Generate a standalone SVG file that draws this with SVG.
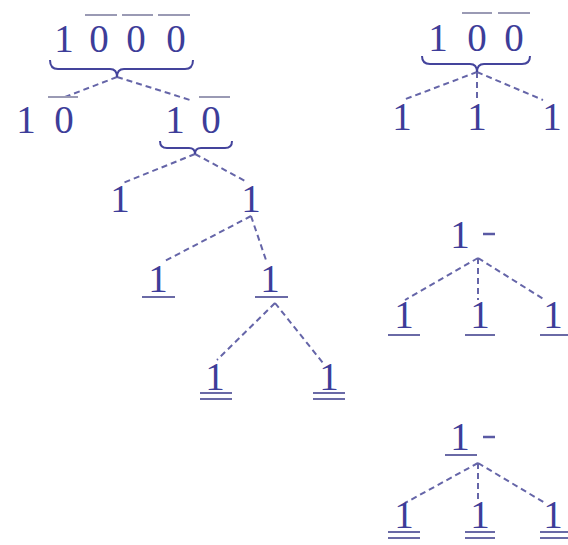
<svg xmlns="http://www.w3.org/2000/svg" width="568" height="545" viewBox="0 0 568 545">
<style>
text{font-family:"Liberation Serif","DejaVu Serif",serif;font-size:39px;fill:#3d3d99;text-anchor:middle}
.ob{stroke:#9a9ab4;stroke-width:2;fill:none}
.ul{stroke:#6a6aa6;stroke-width:2;fill:none}
.br{stroke:#44449c;stroke-width:2;fill:none}
.dl{stroke:#6565a8;stroke-width:2;stroke-dasharray:6 4;fill:none}
.mn{stroke:#5a5aa4;stroke-width:2.5;fill:none}
</style>
<rect width="568" height="545" fill="#ffffff"/>
<g id="connectors">
<path class="dl" d="M117,77 L65,97"/>
<path class="dl" d="M117,77 L190,100"/>
<path class="dl" d="M195,154 L123,183"/>
<path class="dl" d="M195,154 L247,182"/>
<path class="dl" d="M251,216 L163,262"/>
<path class="dl" d="M251,216 L267,263"/>
<path class="dl" d="M275,303 L217,360"/>
<path class="dl" d="M275,303 L323,363"/>
<path class="dl" d="M477,72 L403,100"/>
<path class="dl" d="M477,72 L477,100"/>
<path class="dl" d="M477,72 L543,100"/>
<path class="dl" d="M478,258 L405,300"/>
<path class="dl" d="M478,258 L478,300"/>
<path class="dl" d="M478,258 L545,300"/>
<path class="dl" d="M478,463 L405,503"/>
<path class="dl" d="M478,463 L478,503"/>
<path class="dl" d="M478,463 L545,503"/>
</g>
<g id="n1000">
<text x="64" y="52">1</text><text x="99" y="52">0</text><text x="136" y="52">0</text><text x="176" y="52">0</text>
<path class="ob" d="M85,15 H117 M122,15 H153 M158,15 H190"/>
<path class="br" d="M50,60 Q50,69 58,69 H110 Q117,69 117,77 Q117,69 124,69 H185 Q193,69 193,60"/>
</g>
<g id="n10a">
<text x="26" y="133">1</text><text x="64" y="133">0</text>
<path class="ob" d="M48,97 H78"/>
</g>
<g id="n10b">
<text x="175" y="133">1</text><text x="211" y="133">0</text>
<path class="ob" d="M199,97 H230"/>
<path class="br" d="M160,141 Q160,148 167,148 H189 Q195,148 195,154 Q195,148 201,148 H225 Q232,148 232,141"/>
</g>
<g id="n1a"><text x="120" y="212">1</text></g>
<g id="n1b"><text x="251" y="212">1</text></g>
<g id="n1c"><text x="158" y="292">1</text><path class="ul" d="M142,297 H175"/></g>
<g id="n1d"><text x="270" y="292">1</text><path class="ul" d="M255,297 H288"/></g>
<g id="n1e"><text x="215" y="390">1</text><path class="ul" d="M200,393 H232 M200,399 H232"/></g>
<g id="n1f"><text x="329" y="390">1</text><path class="ul" d="M313,393 H345 M313,399 H345"/></g>
<g id="n100">
<text x="438" y="51">1</text><text x="477" y="51">0</text><text x="514" y="51">0</text>
<path class="ob" d="M462,13 H492 M498,13 H530"/>
<path class="br" d="M422,56 Q422,64 430,64 H470 Q477,64 477,72 Q477,64 484,64 H522 Q530,64 530,56"/>
</g>
<g id="r1a"><text x="402" y="130">1</text></g>
<g id="r1b"><text x="477" y="130">1</text></g>
<g id="r1c"><text x="552" y="130">1</text></g>
<g id="m1">
<text x="460" y="248">1</text><path class="mn" d="M483,234 H495"/>
</g>
<g id="m1a"><text x="404" y="328">1</text><path class="ul" d="M388,335 H420"/></g>
<g id="m1b"><text x="480" y="328">1</text><path class="ul" d="M465,335 H495"/></g>
<g id="m1c"><text x="553" y="328">1</text><path class="ul" d="M540,335 H568"/></g>
<g id="b1">
<text x="460" y="450">1</text><path class="ul" d="M445,455 H477"/><path class="mn" d="M483,437 H495"/>
</g>
<g id="b1a"><text x="404" y="528">1</text><path class="ul" d="M388,532 H420 M388,538 H420"/></g>
<g id="b1b"><text x="480" y="528">1</text><path class="ul" d="M465,532 H495 M465,538 H495"/></g>
<g id="b1c"><text x="553" y="528">1</text><path class="ul" d="M540,532 H568 M540,538 H568"/></g>
</svg>
